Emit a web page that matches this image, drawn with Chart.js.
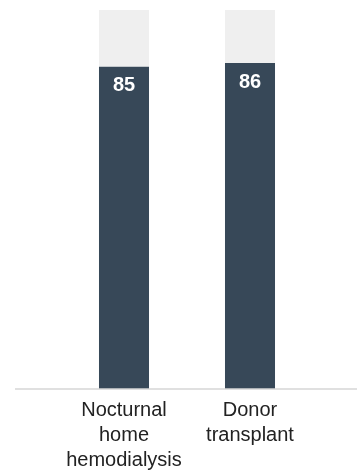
<!DOCTYPE html>
<html>
<head>
<meta charset="utf-8">
<script src="https://cdn.jsdelivr.net/npm/chart.js@4"></script>
<style>
  html, body { margin: 0; padding: 0; background: #fff; }
  #wrap { width: 357px; height: 472px; }
</style>
</head>
<body>
<div id="wrap"><canvas id="survival-chart"></canvas></div>
<script>
const categories = [['Nocturnal', 'home', 'hemodialysis'], ['Donor', 'transplant']];
const survival = [85, 86];
const remainder = [15, 14];

// baseline drawn across the whole width at value 0
const baseLine = {
  id: 'baseLine',
  afterDatasetsDraw(chart) {
    const ctx = chart.ctx;
    const y = chart.scales.y.getPixelForValue(0);
    ctx.save();
    ctx.strokeStyle = '#d6d6d6';
    ctx.lineWidth = 1.5;
    ctx.beginPath();
    ctx.moveTo(15, y);
    ctx.lineTo(357, y);
    ctx.stroke();
    ctx.restore();
  },
};

// white value labels inside the top of the dark bars
const valueLabels = {
  id: 'valueLabels',
  afterDatasetsDraw(chart) {
    const ctx = chart.ctx;
    const meta = chart.getDatasetMeta(0);
    ctx.save();
    ctx.fillStyle = '#ffffff';
    ctx.font = 'bold 20px "Liberation Sans", Arial, sans-serif';
    ctx.textAlign = 'center';
    ctx.textBaseline = 'middle';
    meta.data.forEach((bar, i) => {
      ctx.fillText(survival[i], bar.x, bar.y + 19);
    });
    ctx.restore();
  },
};

new Chart(document.getElementById('survival-chart'), {
  type: 'bar',
  data: {
    labels: categories,
    datasets: [
      {
        data: survival,
        backgroundColor: '#374858',
        barPercentage: 0.397,
        categoryPercentage: 1,
      },
      {
        data: remainder,
        backgroundColor: '#efefef',
        barPercentage: 0.397,
        categoryPercentage: 1,
      },
    ],
  },
  options: {
    responsive: true,
    maintainAspectRatio: false,
    animation: false,
    layout: { padding: { left: 61, right: 44, top: 10, bottom: -10 } },
    plugins: {
      legend: { display: false },
      tooltip: { enabled: false },
    },
    scales: {
      x: {
        stacked: true,
        grid: { display: false, drawTicks: false, tickLength: 0 },
        border: { display: false },
        ticks: {
          color: '#222222',
          padding: 9,
          font: { family: '"Liberation Sans", Arial, sans-serif', size: 20, lineHeight: 1.25 },
        },
      },
      y: {
        stacked: true,
        display: false,
        min: 0,
        max: 100,
      },
    },
  },
  plugins: [baseLine, valueLabels],
});
</script>
</body>
</html>
